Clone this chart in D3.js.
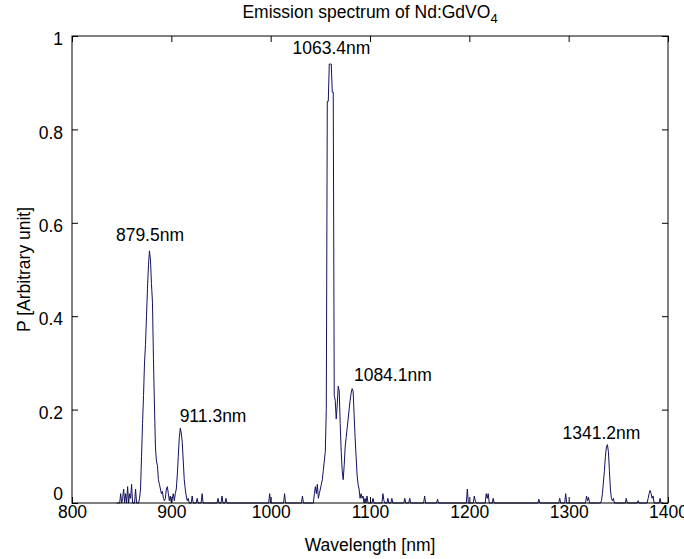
<!DOCTYPE html>
<html>
<head>
<meta charset="utf-8">
<script src="https://cdn.jsdelivr.net/npm/d3@7"></script>
<style>
body { margin: 0; background: #fff; }
text { font-family: Arial, "Liberation Sans", Helvetica, sans-serif; fill: #000; }
</style>
</head>
<body>
<div id="app"></div>
<script>
// spectrum samples
var wavelength = [
    845, 848, 849, 850, 851, 852, 853, 854, 855, 856, 857, 858, 859, 860, 861, 863, 864, 865,
    866, 867, 868, 869, 870, 871, 872, 873, 874, 875, 876, 877, 878, 879, 880, 881, 882, 883,
    884, 885, 886, 887, 888, 889, 890, 891, 892, 893, 894, 895, 896, 897, 898, 899, 900, 901,
    902, 903, 904, 905, 906, 907, 908, 909, 910, 911, 912, 913, 914, 915, 916, 917, 918,
    920, 921, 922, 925, 926, 927, 930, 931, 932, 946, 947, 948, 950, 951, 952, 954, 955, 956,
    998, 999, 1000, 1013, 1014, 1015, 1031, 1032, 1033,
    1043, 1044, 1045, 1046, 1047, 1048, 1049, 1050, 1051, 1052, 1053, 1054, 1055, 1056, 1057,
    1058, 1059, 1060, 1061, 1062, 1063, 1064, 1065, 1066, 1067, 1068, 1069, 1070, 1071, 1072,
    1073, 1074, 1075, 1076, 1077, 1078, 1079, 1080, 1081, 1082, 1083, 1084, 1085, 1086, 1087,
    1088, 1089, 1090, 1091, 1092, 1093, 1094, 1095, 1096, 1097, 1098,
    1102, 1103, 1104, 1112, 1113, 1114, 1115, 1117, 1118, 1119, 1121, 1122, 1123, 1134, 1135, 1136,
    1139, 1140, 1141, 1154, 1155, 1156, 1167, 1168, 1169, 1197, 1198, 1199, 1204, 1205, 1206, 1207,
    1216, 1217, 1218, 1219, 1220, 1223, 1224, 1225, 1269, 1270, 1271, 1290, 1291, 1292, 1296, 1297,
    1298, 1317, 1318, 1319, 1320, 1321,
    1330, 1331, 1332, 1333, 1334, 1335, 1336, 1337, 1338, 1339, 1340, 1341, 1342, 1343, 1344, 1345, 1346,
    1357, 1358, 1359, 1369, 1370, 1371, 1379, 1380, 1381, 1382, 1383, 1384, 1385, 1386,
    1391, 1392, 1393, 1395
];
var power = [
    0, 0, 0.02, 0, 0.01, 0.03, 0, 0.02, 0, 0.035, 0, 0.02, 0.01, 0.04, 0, 0, 0.03, 0,
    0, 0, 0.01, 0.03, 0.10, 0.17, 0.23, 0.30, 0.34, 0.40, 0.46, 0.51, 0.54, 0.52, 0.47, 0.43, 0.31, 0.21,
    0.12, 0.09, 0.08, 0.05, 0.04, 0.03, 0.02, 0.025, 0.01, 0.005, 0.01, 0.03, 0.035, 0.02, 0.005, 0.015, 0, 0.01,
    0.02, 0.005, 0.02, 0.03, 0.06, 0.10, 0.14, 0.16, 0.15, 0.13, 0.09, 0.05, 0.03, 0.015, 0.005, 0.01, 0,
    0, 0.015, 0, 0, 0.01, 0, 0, 0.02, 0, 0, 0.01, 0, 0, 0.015, 0, 0, 0.01, 0,
    0, 0.02, 0, 0, 0.02, 0, 0, 0.015, 0,
    0, 0.02, 0.035, 0.02, 0.04, 0.01, 0.02, 0.03, 0.04, 0.05, 0.07, 0.09, 0.11, 0.20, 0.86,
    0.86, 0.94, 0.94, 0.94, 0.88, 0.88, 0.23, 0.22, 0.18, 0.21, 0.25, 0.24, 0.17, 0.11, 0.07,
    0.05, 0.08, 0.12, 0.14, 0.16, 0.18, 0.20, 0.22, 0.235, 0.245, 0.24, 0.19, 0.14, 0.10, 0.06,
    0.04, 0.03, 0.01, 0.02, 0.01, 0.015, 0, 0.01, 0, 0.015, 0,
    0, 0.01, 0, 0, 0.02, 0.005, 0, 0, 0.01, 0, 0, 0.01, 0, 0, 0.01, 0,
    0, 0.01, 0, 0, 0.015, 0, 0, 0.008, 0, 0, 0.03, 0, 0, 0.015, 0.005, 0,
    0, 0.02, 0.01, 0.02, 0, 0, 0.01, 0, 0, 0.008, 0, 0, 0.01, 0, 0, 0.02,
    0, 0, 0.015, 0.005, 0.012, 0,
    0, 0, 0, 0.005, 0.02, 0.045, 0.07, 0.10, 0.12, 0.125, 0.11, 0.07, 0.03, 0.01, 0.005, 0.01, 0,
    0, 0.01, 0, 0, 0.005, 0, 0, 0.01, 0.02, 0.027, 0.02, 0.01, 0.015, 0,
    0, 0.01, 0, 0
];

// peak annotations
var peakNames = ["879.5nm", "911.3nm", "1063.4nm", "1084.1nm", "1341.2nm"];
var peakLabelX = [878.5, 942, 1061.2, 1123, 1333];
var peakLabelY = [0.574, 0.187, 0.976, 0.275, 0.15];

var xTicks = [800, 900, 1000, 1100, 1200, 1300, 1400];
var yTicks = [0, 0.2, 0.4, 0.6, 0.8, 1];

var W = 684;
var H = 559;
var plotL = 72;
var plotR = 668;
var plotT = 36;
var plotB = 503;
var tickLen = 6;
var fontSize = 17.5;

var svg = d3.select("#app")
    .append("svg")
    .attr("width", W)
    .attr("height", H);

svg.append("rect")
    .attr("width", W)
    .attr("height", H)
    .style("fill", "#fff");

var x = d3.scaleLinear().domain([800, 1400]).range([plotL, plotR]);
var y = d3.scaleLinear().domain([0, 1]).range([plotB, plotT]);

var points = wavelength.map(function (w, i) {
    return [w, power[i]];
});

//SPECTRUM
var line = d3.line()
    .x(function (d) { return x(d[0]); })
    .y(function (d) { return y(d[1]); });

svg.append("path")
    .datum(points)
    .attr("d", line)
    .style("fill", "none")
    .style("stroke", "#12125f")
    .style("stroke-width", 1);

//AXES
svg.append("g")
    .attr("transform", "translate(0," + plotB + ")")
    .call(d3.axisBottom(x).tickValues(xTicks).tickSize(-tickLen).tickPadding(3).tickFormat(d3.format("d")));
svg.append("g")
    .attr("transform", "translate(0," + plotT + ")")
    .call(d3.axisTop(x).tickValues(xTicks).tickSize(-tickLen).tickFormat(""));

var yAxis = svg.append("g")
    .attr("transform", "translate(" + plotL + ",0)")
    .call(d3.axisLeft(y).tickValues(yTicks).tickSize(-tickLen).tickPadding(9).tickFormat(d3.format("")));
svg.append("g")
    .attr("transform", "translate(" + plotR + ",0)")
    .call(d3.axisRight(y).tickValues(yTicks).tickSize(-tickLen).tickFormat(""));

svg.selectAll(".domain").remove();
svg.selectAll(".tick line").style("stroke", "#000");
svg.selectAll(".tick text")
    .style("font-size", fontSize + "px")
    .style("font-family", "Arial, 'Liberation Sans', sans-serif")
    .style("fill", "#000");
// bottom label sits a little higher, as in the original
yAxis.selectAll(".tick text")
    .attr("dy", function (d) { return d === 0 ? "-0.18em" : "0.5em"; });

svg.append("rect")
    .attr("x", plotL)
    .attr("y", plotT)
    .attr("width", plotR - plotL)
    .attr("height", plotB - plotT)
    .style("fill", "none")
    .style("stroke", "#000")
    .style("stroke-width", 1);

//PEAK LABELS
svg.selectAll(".peak")
    .data(peakNames)
    .enter()
    .append("text")
    .attr("class", "peak")
    .attr("x", function (d, i) { return x(peakLabelX[i]); })
    .attr("y", function (d, i) { return y(peakLabelY[i]); })
    .attr("dy", "0.36em")
    .attr("text-anchor", "middle")
    .style("font-size", fontSize + "px")
    .text(function (d) { return d; });

//TITLES
var title = svg.append("text")
    .attr("x", (plotL + plotR) / 2)
    .attr("y", 18)
    .attr("text-anchor", "middle")
    .style("font-size", "17.5px");
title.append("tspan").text("Emission spectrum of Nd:GdVO");
title.append("tspan").attr("dy", 5).style("font-size", "13px").text("4");

svg.append("text")
    .attr("x", (plotL + plotR) / 2)
    .attr("y", 551)
    .attr("text-anchor", "middle")
    .style("font-size", fontSize + "px")
    .text("Wavelength [nm]");

svg.append("text")
    .attr("transform", "translate(30," + ((plotT + plotB) / 2) + ") rotate(-90)")
    .attr("text-anchor", "middle")
    .style("font-size", fontSize + "px")
    .text("P [Arbitrary unit]");
</script>
</body>
</html>
